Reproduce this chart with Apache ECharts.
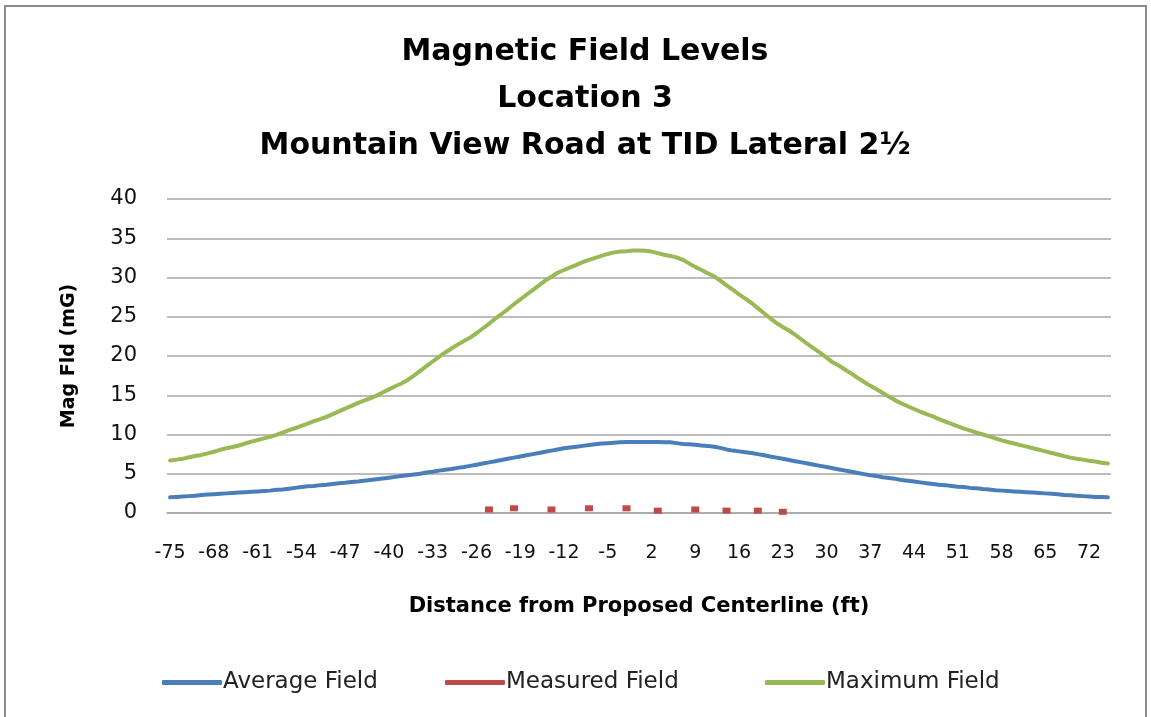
<!DOCTYPE html>
<html>
<head>
<meta charset="utf-8">
<title>Magnetic Field Levels</title>
<script src="https://cdn.jsdelivr.net/npm/echarts@6/dist/echarts.min.js"></script>
<style>
  html, body { margin: 0; padding: 0; background: #fff; }
  #chart { width: 1151px; height: 717px; }
</style>
</head>
<body>
<div id="chart"></div>
<script>
// distance from proposed centerline, ft (-75 .. 75)
const distances = []
for (let d = -75; d <= 75; d++) distances.push(String(d))

const yTicks = [0, 5, 10, 15, 20, 25, 30, 35, 40]

// Average Field, one value per ft from -75 to 75
const averageField = [
  2.0, 2.05, 2.1, 2.15, 2.2, 2.3, 2.35, 2.4, 2.45, 2.5,
  2.55, 2.6, 2.65, 2.7, 2.75, 2.8, 2.85, 2.95, 3.0, 3.1,
  3.2, 3.3, 3.4, 3.45, 3.55, 3.6, 3.7, 3.8, 3.85, 3.95,
  4.0, 4.1, 4.2, 4.3, 4.4, 4.5, 4.6, 4.7, 4.8, 4.9,
  5.0, 5.15, 5.25, 5.4, 5.5, 5.6, 5.75, 5.85, 6.0, 6.15,
  6.3, 6.45, 6.6, 6.75, 6.9, 7.05, 7.2, 7.35, 7.5, 7.65,
  7.8, 7.95, 8.1, 8.25, 8.35, 8.45, 8.55, 8.65, 8.75, 8.85,
  8.9, 8.95, 9.0, 9.05, 9.05, 9.05, 9.05, 9.05, 9.05, 9.0,
  9.0, 8.9, 8.8, 8.75, 8.7, 8.6, 8.55, 8.45, 8.3, 8.1,
  7.95, 7.85, 7.75, 7.65, 7.5, 7.35, 7.2, 7.05, 6.9, 6.75,
  6.6, 6.45, 6.3, 6.15, 6.0, 5.85, 5.7, 5.55, 5.4, 5.25,
  5.1, 4.95, 4.8, 4.7, 4.55, 4.45, 4.35, 4.2, 4.1, 4.0,
  3.9, 3.8, 3.7, 3.6, 3.55, 3.45, 3.35, 3.3, 3.2, 3.15,
  3.05, 3.0, 2.9, 2.85, 2.8, 2.75, 2.7, 2.65, 2.6, 2.55,
  2.5, 2.45, 2.4, 2.3, 2.25, 2.2, 2.15, 2.1, 2.05, 2.05,
  2.0
]

// Maximum Field, one value per ft from -75 to 75
const maximumField = [
  6.7, 6.8, 6.9, 7.1, 7.25, 7.4, 7.6, 7.8, 8.05, 8.25,
  8.4, 8.6, 8.85, 9.1, 9.3, 9.5, 9.7, 9.95, 10.25, 10.55,
  10.8, 11.1, 11.4, 11.7, 11.95, 12.25, 12.6, 12.95, 13.3, 13.65,
  14.0, 14.3, 14.6, 14.95, 15.35, 15.75, 16.15, 16.5, 16.95, 17.5,
  18.1, 18.7, 19.3, 19.9, 20.45, 20.95, 21.45, 21.9, 22.35, 22.9,
  23.5, 24.1, 24.75, 25.35, 25.95, 26.6, 27.2, 27.8, 28.4, 29.0,
  29.6, 30.1, 30.6, 30.95, 31.3, 31.6, 31.95, 32.25, 32.5, 32.75,
  33.0, 33.2, 33.3, 33.35, 33.45, 33.45, 33.4, 33.3, 33.1, 32.9,
  32.75, 32.55, 32.25, 31.8, 31.35, 30.95, 30.55, 30.15, 29.6, 29.0,
  28.45, 27.85, 27.3, 26.75, 26.1, 25.45, 24.8, 24.2, 23.7, 23.25,
  22.7, 22.1, 21.5, 20.95, 20.4, 19.8, 19.2, 18.75, 18.25, 17.75,
  17.2, 16.7, 16.2, 15.75, 15.3, 14.8, 14.35, 13.95, 13.6, 13.25,
  12.9, 12.6, 12.3, 11.95, 11.65, 11.35, 11.05, 10.75, 10.5, 10.25,
  10.0, 9.75, 9.5, 9.25, 9.05, 8.85, 8.65, 8.45, 8.25, 8.05,
  7.85, 7.65, 7.45, 7.25, 7.05, 6.9, 6.8, 6.65, 6.55, 6.4,
  6.3
]

// Measured Field, only at a few spots
const measuredAt = ['-24', '-20', '-14', '-8', '-2', '3', '9', '14', '19', '23']
const measuredField = [0.45, 0.6, 0.45, 0.6, 0.6, 0.3, 0.45, 0.3, 0.3, 0.15]

const seriesNames = ['Average Field', 'Measured Field', 'Maximum Field']

const labelFont = '"DejaVu Sans", "Open Sans", sans-serif'

// one legend per entry so each sits where the original has it
const legendLeft = [157, 440, 760]
const legends = seriesNames.map((n, i) => ({
  left: legendLeft[i],
  top: 666,
  itemWidth: 60,
  itemHeight: 5,
  icon: 'roundRect',
  textStyle: { fontFamily: labelFont, fontSize: 23, color: '#222', padding: [0, 0, 0, -4] },
  data: [n]
}))

const chart = echarts.init(document.getElementById('chart'))
chart.setOption({
  animation: false,
  backgroundColor: '#fff',
  textStyle: { fontFamily: labelFont },
  title: {
    text: 'Magnetic Field Levels\nLocation 3\nMountain View Road at TID Lateral 2½',
    left: 580,
    top: 24,
    textAlign: 'center',
    textStyle: {
      fontFamily: labelFont,
      fontSize: 30,
      fontWeight: 'bold',
      color: '#000',
      lineHeight: 47
    }
  },
  graphic: [{
    type: 'rect',
    shape: { x: 5, y: 6, width: 1141, height: 730 },
    style: { fill: 'none', stroke: '#8c8c8c', lineWidth: 2 },
    silent: true
  }],
  grid: {
    left: 167,
    right: 40,
    top: 199,
    bottom: 204
  },
  legend: legends,
  xAxis: {
    type: 'category',
    data: distances,
    boundaryGap: true,
    name: 'Distance from Proposed Centerline (ft)',
    nameLocation: 'middle',
    nameGap: 83,
    nameTextStyle: { fontFamily: labelFont, fontSize: 21, fontWeight: 'bold', color: '#000' },
    axisLine: { show: true, lineStyle: { color: '#a6a6a6', width: 1.5 } },
    axisTick: { show: false },
    axisLabel: {
      interval: 6,
      margin: 31,
      fontSize: 19,
      color: '#111',
      fontFamily: labelFont
    },
    splitLine: { show: false }
  },
  yAxis: {
    type: 'value',
    min: yTicks[0],
    max: yTicks[yTicks.length - 1],
    interval: 5,
    name: 'Mag Fld (mG)',
    nameLocation: 'middle',
    nameRotate: 90,
    nameGap: 88,
    nameTextStyle: { fontFamily: labelFont, fontSize: 19, fontWeight: 'bold', color: '#000' },
    axisLine: { show: false },
    axisTick: { show: false },
    axisLabel: { margin: 30, fontSize: 21, color: '#111', fontFamily: labelFont },
    splitLine: { lineStyle: { color: '#a6a6a6', width: 1.5 } }
  },
  series: [
    {
      name: seriesNames[0],
      type: 'line',
      data: averageField,
      showSymbol: false,
      smooth: false,
      color: '#4a7ebb',
      lineStyle: { color: '#4a7ebb', width: 4, cap: 'round', join: 'round' }
    },
    {
      name: seriesNames[1],
      type: 'line',
      data: measuredAt.map((d, i) => [d, measuredField[i]]),
      symbol: 'rect',
      symbolSize: [8, 6],
      showSymbol: true,
      showAllSymbol: true,
      color: '#be4b48',
      itemStyle: { color: '#be4b48' },
      lineStyle: { width: 0, opacity: 0 }
    },
    {
      name: seriesNames[2],
      type: 'line',
      data: maximumField,
      showSymbol: false,
      smooth: false,
      color: '#98b954',
      lineStyle: { color: '#98b954', width: 4, cap: 'round', join: 'round' }
    }
  ]
})
</script>
</body>
</html>
